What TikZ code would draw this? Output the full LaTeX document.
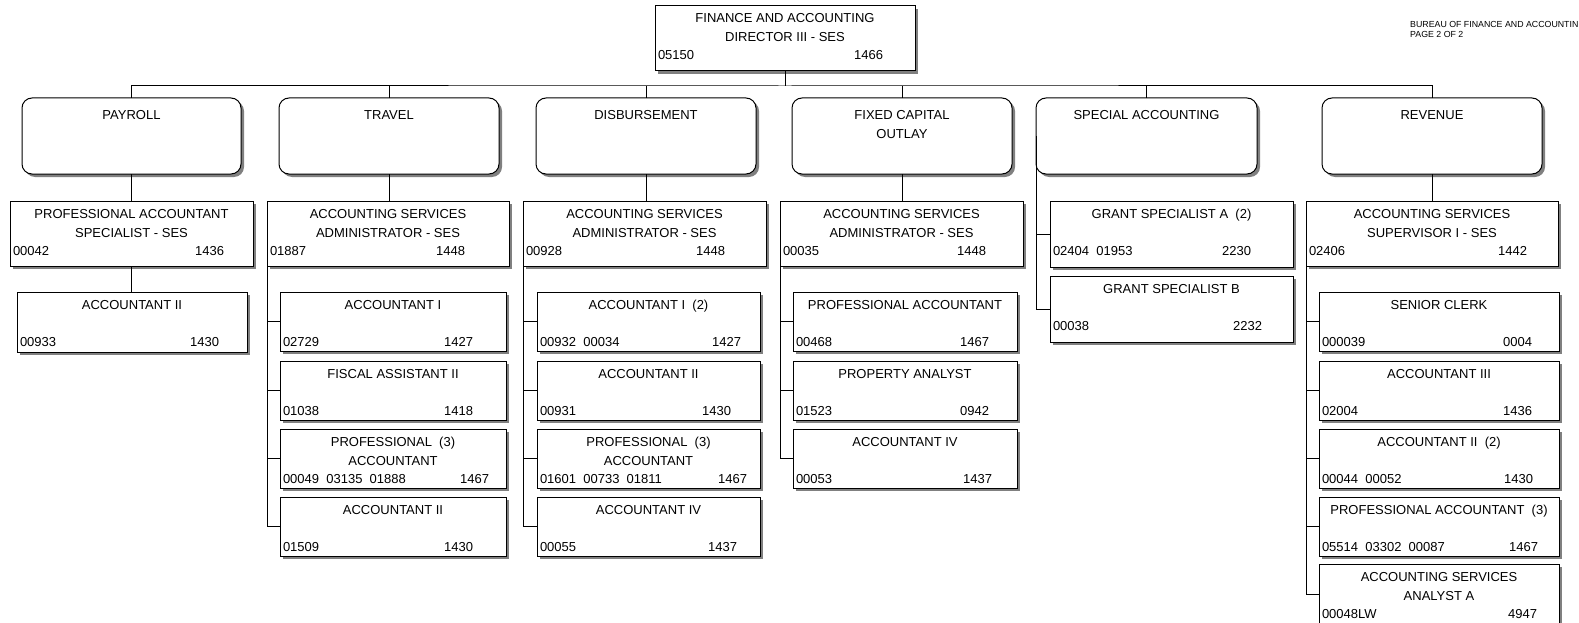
\documentclass[tikz,border=0pt]{standalone}
\usepackage{fontspec}
\setmainfont{Liberation Sans}
\usetikzlibrary{calc,shadows}

\newcommand\chartfont{\fontsize{13}{19}\selectfont}
\newcommand\headfont{\fontsize{8.8}{10}\selectfont}
\newcommand\gap{\ \ }

\tikzset{
  posbox/.style={draw=black, fill=white, line width=1pt, anchor=north west,
    inner sep=0pt, outer sep=0pt,
    drop shadow={shadow xshift=3pt, shadow yshift=-3pt, fill=black!50, draw=none, opacity=1}},
  catbox/.style={posbox, rounded corners=10pt},
  txt/.style={inner sep=0pt, outer sep=0pt, font=\chartfont},
  wire/.style={draw=black, line width=1pt}
}

% position box: name, x1, y1, x2, y2, title, left number, right number, right edge of right number
\newcommand\unitbox[9]{%
  \node[posbox, minimum width={#4-#2}, minimum height={#5-#3}] (#1) at (#2,#3) {};
  \node[txt, anchor=base] (#1-t) at ($(#1.north)+(0,17)$)
    {\begin{tabular}[t]{@{}c@{}}#6\end{tabular}};
  \node[txt, anchor=base west] (#1-l) at ($(#1.north west)+(3,54)$) {#7};
  \node[txt, anchor=base east] (#1-r) at (#9,#3+54) {#8};
}
% section box: name, x1, y1, x2, y2, title
\newcommand\sectbox[6]{%
  \node[catbox, minimum width={#4-#2}, minimum height={#5-#3}] (#1) at (#2,#3) {};
  \node[txt, anchor=base] (#1-t) at ($(#1.north)+(0,21.5)$)
    {\begin{tabular}[t]{@{}c@{}}#6\end{tabular}};
}

\begin{document}
\begin{tikzpicture}[x=1pt, y=-1pt]
\useasboundingbox (0,0) rectangle (1579,623);
\fill[white] (0,0) rectangle (1579,623);

% header
\node[inner sep=0pt, anchor=base west, font=\headfont] (hdr) at (1410,27.5)
  {\begin{tabular}[t]{@{}l@{}}BUREAU OF FINANCE AND ACCOUNTIN\\PAGE 2 OF 2\end{tabular}};

% head of bureau
\unitbox{top}{655}{6}{915}{71}{FINANCE AND ACCOUNTING\\DIRECTOR III - SES}{05150}{1466}{883}

% sections
\sectbox{payroll}{22}{98}{241}{174}{PAYROLL}
\sectbox{travel}{279}{98}{499}{174}{TRAVEL}
\sectbox{disb}{536}{98}{756}{174}{DISBURSEMENT}
\sectbox{fixed}{792}{98}{1012}{174}{FIXED CAPITAL\\OUTLAY}
\sectbox{special}{1036}{98}{1257}{174}{SPECIAL ACCOUNTING}
\sectbox{revenue}{1322}{98}{1542}{174}{REVENUE}

% section heads
\unitbox{pas}{10}{201}{253}{266}{PROFESSIONAL ACCOUNTANT\\SPECIALIST - SES}{00042}{1436}{224}
\unitbox{tas}{267}{201}{509}{266}{ACCOUNTING SERVICES\\ADMINISTRATOR - SES}{01887}{1448}{465}
\unitbox{das}{523}{201}{766}{266}{ACCOUNTING SERVICES\\ADMINISTRATOR - SES}{00928}{1448}{725}
\unitbox{fas}{780}{201}{1023}{266}{ACCOUNTING SERVICES\\ADMINISTRATOR - SES}{00035}{1448}{986}
\unitbox{ga}{1050}{201}{1293}{267}{GRANT SPECIALIST A\gap(2)}{02404\gap01953}{2230}{1251}
\unitbox{gb}{1050}{276}{1293}{342}{GRANT SPECIALIST B}{00038}{2232}{1262}
\unitbox{ras}{1306}{201}{1558}{266}{ACCOUNTING SERVICES\\SUPERVISOR I - SES}{02406}{1442}{1527}

% payroll staff
\unitbox{pc1}{17}{292}{247}{352}{ACCOUNTANT II}{00933}{1430}{219}

% travel staff
\unitbox{tc1}{280}{292}{506}{351}{ACCOUNTANT I}{02729}{1427}{473}
\unitbox{tc2}{280}{361}{506}{420}{FISCAL ASSISTANT II}{01038}{1418}{473}
\unitbox{tc3}{280}{429}{506}{488}{PROFESSIONAL\gap(3)\\ACCOUNTANT}{00049\gap03135\gap01888}{1467}{489}
\unitbox{tc4}{280}{497}{506}{556}{ACCOUNTANT II}{01509}{1430}{473}

% disbursement staff
\unitbox{dc1}{537}{292}{760}{351}{ACCOUNTANT I\gap(2)}{00932\gap00034}{1427}{741}
\unitbox{dc2}{537}{361}{760}{420}{ACCOUNTANT II}{00931}{1430}{731}
\unitbox{dc3}{537}{429}{760}{488}{PROFESSIONAL\gap(3)\\ACCOUNTANT}{01601\gap00733\gap01811}{1467}{747}
\unitbox{dc4}{537}{497}{760}{556}{ACCOUNTANT IV}{00055}{1437}{737}

% fixed capital outlay staff
\unitbox{fc1}{793}{292}{1017}{351}{PROFESSIONAL ACCOUNTANT}{00468}{1467}{989}
\unitbox{fc2}{793}{361}{1017}{420}{PROPERTY ANALYST}{01523}{0942}{989}
\unitbox{fc3}{793}{429}{1017}{488}{ACCOUNTANT IV}{00053}{1437}{992}

% revenue staff
\unitbox{rc1}{1319}{292}{1559}{351}{SENIOR CLERK}{000039}{0004}{1532}
\unitbox{rc2}{1319}{361}{1559}{420}{ACCOUNTANT III}{02004}{1436}{1532}
\unitbox{rc3}{1319}{429}{1559}{488}{ACCOUNTANT II\gap(2)}{00044\gap00052}{1430}{1533}
\unitbox{rc4}{1319}{497}{1559}{556}{PROFESSIONAL ACCOUNTANT\gap(3)}{05514\gap03302\gap00087}{1467}{1538}
\unitbox{rc5}{1319}{564}{1559}{624}{ACCOUNTING SERVICES\\ANALYST A}{00048LW}{4947}{1537}

% bus from the director to the sections
\coordinate (bus) at ($(top.south)+(0,15)$);
\draw[wire] (top.south) -- (bus);
\draw[wire] (payroll.north) |- (bus) -| (revenue.north);
\foreach \s in {travel,disb,fixed,special}
  \draw[wire] (\s.north) -- (\s.north |- bus);

% sections to their heads
\draw[wire] (payroll.south) -- (payroll.south |- pas.north);
\draw[wire] (travel.south) -- (travel.south |- tas.north);
\draw[wire] (disb.south) -- (disb.south |- das.north);
\draw[wire] (fixed.south) -- (fixed.south |- fas.north);
\draw[wire] (revenue.south) -- (revenue.south |- ras.north);

% heads to staff
\draw[wire] (pas.south) -- (pas.south |- pc1.north);
\draw[wire] (tas.south west) |- (tc4.west);
\foreach \c in {tc1,tc2,tc3}
  \draw[wire] (tas.south west |- \c.west) -- (\c.west);
\draw[wire] (das.south west) |- (dc4.west);
\foreach \c in {dc1,dc2,dc3}
  \draw[wire] (das.south west |- \c.west) -- (\c.west);
\draw[wire] (fas.south west) |- (fc3.west);
\foreach \c in {fc1,fc2}
  \draw[wire] (fas.south west |- \c.west) -- (\c.west);
\draw[wire] (special.west) |- (gb.west);
\draw[wire] (special.west |- ga.west) -- (ga.west);
\draw[wire] (ras.south west) |- (rc5.west);
\foreach \c in {rc1,rc2,rc3,rc4}
  \draw[wire] (ras.south west |- \c.west) -- (\c.west);
\end{tikzpicture}
\end{document}
